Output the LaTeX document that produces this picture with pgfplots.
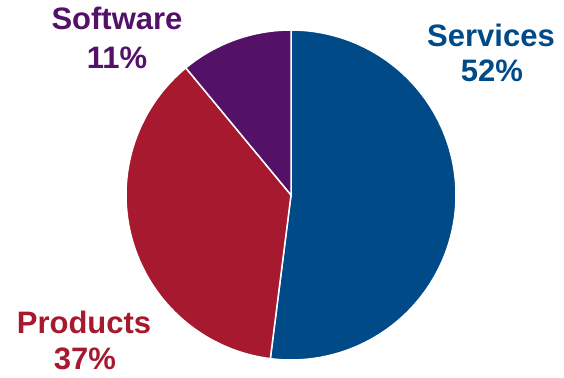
\documentclass[border=0pt]{standalone}
\usepackage{pgfplots}
\pgfplotsset{compat=1.18}
\usepackage{fontspec}
\setmainfont{Liberation Sans}
\definecolor{cserv}{RGB}{0,74,135}
\definecolor{cprod}{RGB}{166,25,46}
\definecolor{csoft}{RGB}{83,18,104}
% shares (percent)
\def\vServ{52}
\def\vProd{37}
\def\vSoft{11}
\begin{document}
\begin{tikzpicture}
\pgfmathsetmacro{\aA}{90}
\pgfmathsetmacro{\aB}{90-3.6*\vServ}
\pgfmathsetmacro{\aC}{\aB-3.6*\vProd}
\pgfmathsetmacro{\aD}{\aC-3.6*\vSoft}
\begin{axis}[
  width=564pt, height=377pt, scale only axis,
  xmin=0, xmax=564, ymin=0, ymax=377,
  hide axis, clip=false,
]
\addplot[draw=none, forget plot] coordinates {(0,0) (564,377)};
\addplot[fill=cserv, draw=white, line width=1.5pt, domain=\aB:\aA, samples=120, smooth]
  ({291+165*cos(x)},{182+165*sin(x)}) -- (axis cs:291,182) -- cycle;
\addplot[fill=cprod, draw=white, line width=1.5pt, domain=\aC:\aB, samples=100, smooth]
  ({291+165*cos(x)},{182+165*sin(x)}) -- (axis cs:291,182) -- cycle;
\addplot[fill=csoft, draw=white, line width=1.5pt, domain=\aD:\aC, samples=40, smooth]
  ({291+165*cos(x)},{182+165*sin(x)}) -- (axis cs:291,182) -- cycle;
\node[anchor=base, text=cserv, font=\fontsize{31}{36}\selectfont\bfseries] at (axis cs:491,330) {Services};
\node[anchor=base, text=cserv, font=\fontsize{31}{36}\selectfont\bfseries] at (axis cs:492,295) {\vServ\%};
\node[anchor=base, text=cprod, font=\fontsize{31}{36}\selectfont\bfseries] at (axis cs:84,43) {Products};
\node[anchor=base, text=cprod, font=\fontsize{31}{36}\selectfont\bfseries] at (axis cs:85,8) {\vProd\%};
\node[anchor=base, text=csoft, font=\fontsize{31}{36}\selectfont\bfseries] at (axis cs:117,347) {Software};
\node[anchor=base, text=csoft, font=\fontsize{31}{36}\selectfont\bfseries] at (axis cs:117,308) {\vSoft\%};
\end{axis}
\end{tikzpicture}
\end{document}
